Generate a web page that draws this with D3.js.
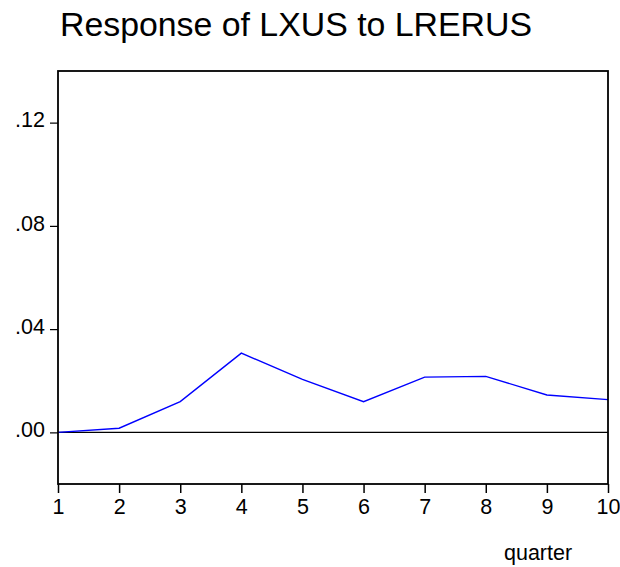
<!DOCTYPE html>
<html>
<head>
<meta charset="utf-8">
<script src="https://cdn.jsdelivr.net/npm/d3@7"></script>
<style>
  html, body { margin: 0; padding: 0; background: #fff; }
  svg { display: block; font-family: Arial, "Liberation Sans", sans-serif; }
</style>
</head>
<body>
<svg id="chart" width="620" height="567"></svg>
<script>
const title = "Response of LXUS to LRERUS";
const xLabel = "quarter";
const quarters = [1, 2, 3, 4, 5, 6, 7, 8, 9, 10];
const response = [0.0000, 0.0016, 0.0119, 0.0307, 0.0205, 0.0119, 0.0214, 0.0217, 0.0145, 0.0127];
const yTicks = [0.00, 0.04, 0.08, 0.12];
const yDomain = [-0.02, 0.14];

const svg = d3.select("#chart");
const plotLeft = 58, plotRight = 608, plotTop = 71, plotBottom = 484;

const x = d3.scaleLinear().domain([1, 10]).range([plotLeft, plotRight]);
const y = d3.scaleLinear().domain(yDomain).range([plotBottom, plotTop]);

const fmt = v => d3.format(".2f")(v).replace(/^0/, "").replace(/^-0/, "-");

// Title
svg.append("text")
  .attr("x", 60).attr("y", 36)
  .attr("font-size", 33)
  .attr("textLength", 472)
  .attr("lengthAdjust", "spacingAndGlyphs")
  .attr("fill", "#000")
  .text(title);

// Zero line
svg.append("line")
  .attr("x1", plotLeft).attr("x2", plotRight)
  .attr("y1", y(0)).attr("y2", y(0))
  .attr("stroke", "#000").attr("stroke-width", 1.2);

// Data line
svg.append("path")
  .datum(quarters.map((q, i) => [q, response[i]]))
  .attr("fill", "none")
  .attr("stroke", "#0000ff")
  .attr("stroke-width", 1.4)
  .attr("d", d3.line().x(d => x(d[0])).y(d => y(d[1])));

// Axes
const yAxis = d3.axisLeft(y).tickValues(yTicks).tickFormat(fmt).tickSize(8).tickPadding(5);
const gy = svg.append("g").attr("transform", `translate(${plotLeft},0)`).call(yAxis);
gy.select(".domain").remove();
gy.selectAll(".tick line").attr("stroke", "#000").attr("stroke-width", 1.2);
gy.selectAll(".tick text").attr("font-size", 21.5).attr("fill", "#000").attr("dy", "0.2em")
  .attr("font-family", "Arial, 'Liberation Sans', sans-serif");

const xAxis = d3.axisBottom(x).tickValues(quarters).tickFormat(d3.format("d")).tickSize(9).tickPadding(6);
const gx = svg.append("g").attr("transform", `translate(0,${plotBottom})`).call(xAxis);
gx.select(".domain").remove();
gx.selectAll(".tick line").attr("stroke", "#000").attr("stroke-width", 1.5);
gx.selectAll(".tick text").attr("font-size", 21.5).attr("fill", "#000")
  .attr("font-family", "Arial, 'Liberation Sans', sans-serif");

// Frame
svg.append("rect")
  .attr("x", plotLeft).attr("y", plotTop)
  .attr("width", plotRight - plotLeft).attr("height", plotBottom - plotTop)
  .attr("fill", "none").attr("stroke", "#000").attr("stroke-width", 1.8);

// X label
svg.append("text")
  .attr("x", 504).attr("y", 560)
  .attr("font-size", 21.5).attr("fill", "#000")
  .text(xLabel);
</script>
</body>
</html>
